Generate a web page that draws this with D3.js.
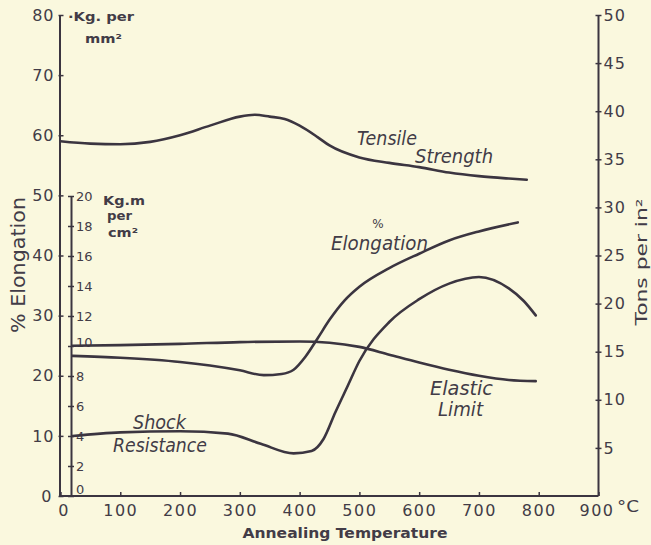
<!DOCTYPE html>
<html><head><meta charset="utf-8">
<script src="https://cdn.jsdelivr.net/npm/d3@7"></script>
<style>
html,body{margin:0;padding:0;background:#faf8de;}
svg{display:block;}
</style></head>
<body>
<svg id="chart" width="651" height="545"></svg>
<script>
// ---- data ----
const leftTicks = [0,10,20,30,40,50,60,70,80];           // kg per mm² / % elongation
const innerTicks = [0,2,4,6,8,10,12,14,16,18,20];        // kg.m per cm²
const rightTicks = [5,10,15,20,25,30,35,40,45,50];        // tons per in²
const xTicks = [0,100,200,300,400,500,600,700,800,900];   // °C

const tensileT = [0,50,100,150,200,250,300,325,350,375,400,430,450,500,550,600,650,700,750,780];
const tensile  = [59.0,58.6,58.5,58.9,60.0,61.6,63.1,63.4,63.1,62.7,61.6,59.7,58.3,56.3,55.4,54.7,53.8,53.2,52.8,52.6];

const elasticT = [20,100,200,300,400,450,500,550,600,650,700,750,795];
const elastic  = [25.0,25.1,25.3,25.6,25.7,25.5,24.8,23.5,22.2,21.0,20.0,19.3,19.1];

const elongT = [20,100,200,250,300,340,370,390,410,430,450,475,500,550,600,650,700,765];
const elong  = [23.3,23.0,22.3,21.7,20.9,20.1,20.3,21.0,23.2,26.2,29.3,32.5,34.8,37.9,40.3,42.5,44.0,45.5];

const shockT = [20,100,200,280,335,390,420,440,460,480,500,550,600,650,700,750,775,795];
const shock  = [4.0,4.24,4.32,4.16,3.48,2.84,3.0,3.8,5.6,7.3,9.0,11.6,13.12,14.16,14.6,13.84,13.0,12.04];

// ---- setup ----
const ink = "#3b3540";
const txt = "#423c47";
const svg = d3.select("#chart");
svg.append("rect").attr("width",651).attr("height",545).attr("fill","#faf8de");

const x  = d3.scaleLinear().domain([0,900]).range([60.5,598.5]);
const yL = d3.scaleLinear().domain([0,80]).range([496,15]);
const yR = d3.scaleLinear().domain([0,50]).range([496,15]);
const yI = d3.scaleLinear().domain([0,20]).range([496,196]);

const font = "DejaVu Sans, Liberation Sans, sans-serif";

// ---- axes ----
function styleAxis(g){
  g.select(".domain").attr("stroke",ink).attr("stroke-width",2);
  g.selectAll(".tick line").attr("stroke",ink).attr("stroke-width",1.5);
  g.selectAll(".tick text").attr("fill",txt).attr("font-family",font);
}

// left axis
const gL = svg.append("g").attr("transform","translate(59.5,0)")
  .call(d3.axisLeft(yL).tickValues(leftTicks).tickSizeOuter(0).tickSize(0).tickPadding(5).tickFormat(d3.format("d")));
styleAxis(gL);
gL.selectAll(".tick line").attr("x1",-1).attr("x2",4);
gL.selectAll(".tick text").attr("font-size",16).attr("letter-spacing",1);
gL.selectAll(".tick").filter(d=>d===0).select("text").attr("dx",-2);

// inner axis
const gI = svg.append("g").attr("transform","translate(71,0)")
  .call(d3.axisRight(yI).tickValues(innerTicks).tickSizeOuter(0).tickSize(0).tickPadding(5).tickFormat(d3.format("d")));
styleAxis(gI);
gI.selectAll(".tick line").attr("x1",-3).attr("x2",3);
gI.selectAll(".tick text").attr("font-size",13);
gI.selectAll(".tick").filter(d=>d===0).select("text").attr("dy","-0.2em");
gI.selectAll(".tick").filter(d=>d===10).select("text").attr("dy","0.05em");

// right axis
const gR = svg.append("g").attr("transform","translate(598.5,0)")
  .call(d3.axisRight(yR).tickValues(rightTicks).tickSizeOuter(0).tickSize(0).tickPadding(5).tickFormat(d3.format("d")));
styleAxis(gR);
gR.select(".domain").attr("d","M0,15V496");
gR.selectAll(".tick line").attr("x1",-3).attr("x2",3);
gR.selectAll(".tick text").attr("font-size",16).attr("letter-spacing",1);

// bottom axis
const gB = svg.append("g").attr("transform","translate(0,496)")
  .call(d3.axisBottom(x).tickValues(xTicks).tickSizeOuter(0).tickSize(0).tickPadding(9).tickFormat(d3.format("d")));
styleAxis(gB);
gB.select(".domain").attr("d","M59.5,0H598.5");
gB.selectAll(".tick line").attr("y1",-4).attr("y2",0);
gB.selectAll(".tick text").attr("font-size",16).attr("letter-spacing",1.5);
gB.selectAll(".tick").filter(d=>d===0).select("text").attr("dx",3);
gB.selectAll(".tick").filter(d=>d===900).select("text").attr("dx",-2);

// ---- curves ----
const lineL = d3.line().x(d=>x(d[0])).y(d=>yL(d[1])).curve(d3.curveMonotoneX);
const lineI = d3.line().x(d=>x(d[0])).y(d=>yI(d[1])).curve(d3.curveMonotoneX);
const zip = (a,b)=>a.map((v,i)=>[v,b[i]]);

[[lineL, zip(tensileT,tensile)],
 [lineL, zip(elasticT,elastic)],
 [lineL, zip(elongT,elong)],
 [lineI, zip(shockT,shock)]].forEach(([ln,data])=>{
  svg.append("path").attr("d",ln(data)).attr("fill","none")
    .attr("stroke",ink).attr("stroke-width",2.6).attr("stroke-linecap","round");
});

// ---- text labels ----
function label(t,xp,yp,opts={}){
  const el = svg.append("text").attr("x",xp).attr("y",yp).text(t)
    .attr("font-family",opts.family||font)
    .attr("font-size",opts.size||14)
    .attr("fill",opts.fill||txt);
  if(opts.weight) el.attr("font-weight",opts.weight);
  if(opts.style) el.attr("font-style",opts.style);
  if(opts.anchor) el.attr("text-anchor",opts.anchor);
  if(opts.len) el.attr("textLength",opts.len).attr("lengthAdjust","spacingAndGlyphs");
  if(opts.transform) el.attr("transform",opts.transform);
  return el;
}

// unit labels
label("·Kg. per",68,21,{size:12.5,weight:"bold",len:66});
label("mm²",85,43,{size:12.5,weight:"bold",len:37});
label("Kg.m",103,205,{size:13,weight:"bold",len:42});
label("per",107,220,{size:12.5,weight:"bold",len:25});
label("cm²",108,237,{size:12.5,weight:"bold",len:30});
label("°C",617,512,{size:16,len:22});

// axis titles
label("% Elongation",25,265,{size:19,anchor:"middle",len:136,transform:"rotate(-90,25,265)"});
label("Tons per in²",647,262,{size:15,anchor:"middle",len:127,transform:"rotate(-90,647,262)"});
label("Annealing Temperature",345,538,{size:14,anchor:"middle",len:205,weight:"bold"});

// curve labels
const it = {size:19,style:"italic"};
label("Tensile",357,145,{...it,len:60});
label("Strength",415,163,{...it,len:78});
label("%",378,228,{size:12,anchor:"middle"});
label("Elongation",331,250,{...it,len:97});
label("Elastic",430,395,{...it,len:63});
label("Limit",438,416,{...it,len:45});
label("Shock",133,429,{...it,len:53});
label("Resistance",113,452,{...it,len:94});
</script>
</body></html>
